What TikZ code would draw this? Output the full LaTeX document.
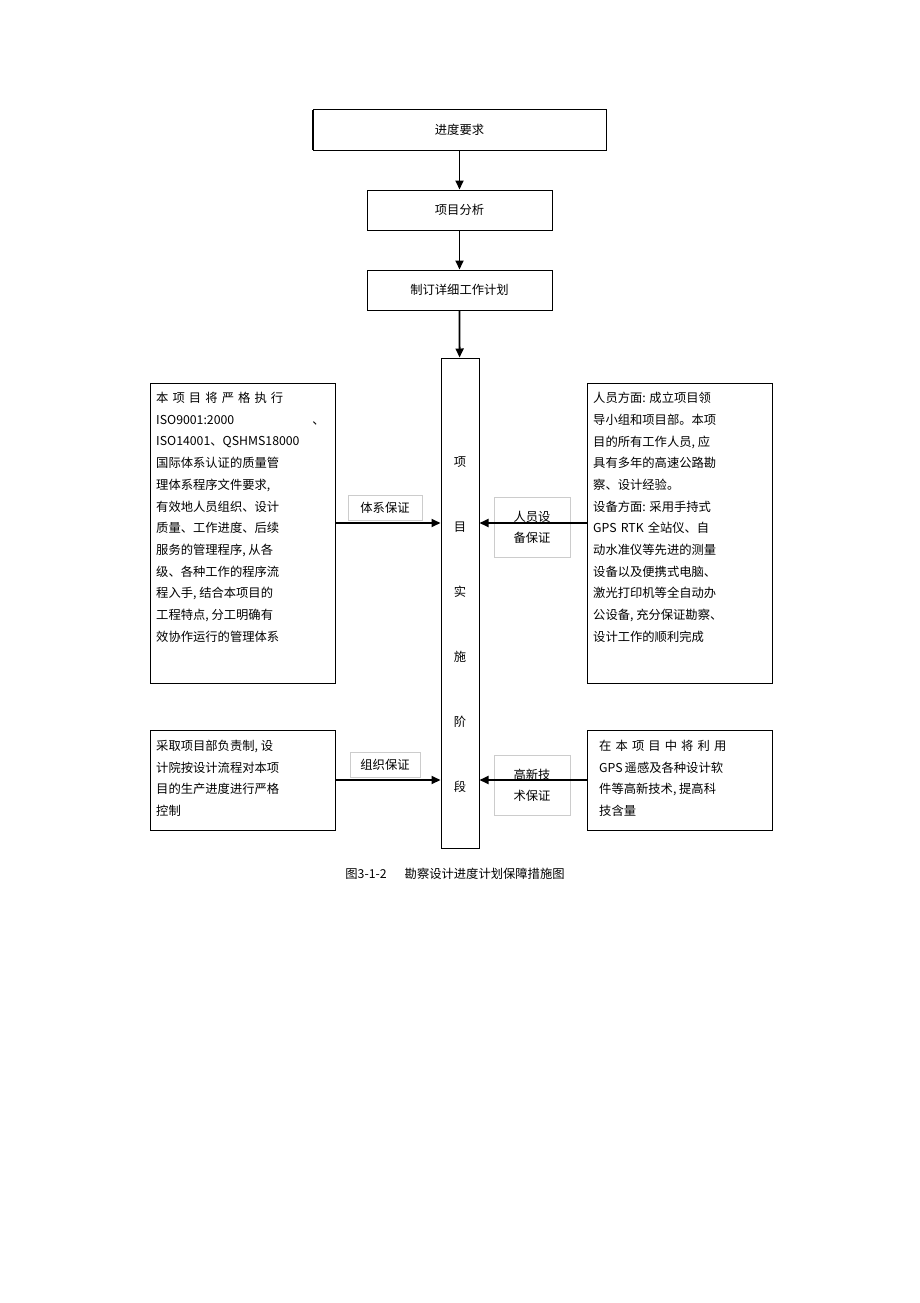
\documentclass[tikz,border=0pt]{standalone}
\usepackage{fontspec}
\setmainfont{Liberation Sans}
\newfontfamily\cjk{Noto Sans CJK SC}
\usetikzlibrary{arrows.meta}
\begin{document}
\begin{tikzpicture}[x=1pt,y=-1pt,
  box/.style={draw,line width=1pt},
  lbl/.style={draw=black!20,line width=0.5pt},
  txt/.style={anchor=north west,align=left,font=\cjk\fontsize{12.3}{21.7}\selectfont,inner sep=0pt},
  arr/.style={line width=1.8pt,-{Triangle[length=9pt,width=8pt]}}]
\useasboundingbox (0,0) rectangle (920,1303);
\node[box,minimum width=293,minimum height=40,font=\cjk\fontsize{12.3}{14}\selectfont] (a) at (459.5,130) {进度要求};
\draw[line width=2pt] (313,110)--(313,150);
\node[box,minimum width=185,minimum height=40,font=\cjk\fontsize{12.3}{14}\selectfont] (b) at (459.5,210) {项目分析};
\node[box,minimum width=185,minimum height=40,font=\cjk\fontsize{12.3}{14}\selectfont] (c) at (459.5,290) {制订详细工作计划};
\node[box,minimum width=38,minimum height=490,inner sep=0] (m) at (460,603) {};
\foreach \t [count=\i from 0] in {项,目,实,施,阶,段}
  \node[font=\cjk\fontsize{12.3}{14}\selectfont] (m\i) at (460,462+65*\i) {\t};
\draw[arr] (a) -- (b);
\draw[arr] (b) -- (c);
\draw[arr] (c) -- (m);
% left big
\node[box,minimum width=185,minimum height=300,inner sep=0] (L1) at (242.5,533) {};
\node[txt] (L1t) at (156,392) {本\,\,项\,\,目\,\,将\,\,严\,\,格\,\,执\,\,行\\
ISO9001:2000\hspace{78pt}、\\
ISO14001、QSHMS18000\\
国际体系认证的质量管\\理体系程序文件要求,\\有效地人员组织、设计\\质量、工作进度、后续\\服务的管理程序, 从各\\级、各种工作的程序流\\程入手, 结合本项目的\\工程特点, 分工明确有\\效协作运行的管理体系};
% right big
\node[box,minimum width=185,minimum height=300,inner sep=0] (R1) at (679.5,533) {};
\node[txt] (R1t) at (593,392) {人员方面: 成立项目领\\导小组和项目部。本项\\目的所有工作人员, 应\\具有多年的高速公路勘\\察、设计经验。\\设备方面: 采用手持式\\GPS\,\,RTK\,\,全站仪、自\\动水准仪等先进的测量\\设备以及便携式电脑、\\激光打印机等全自动办\\公设备, 充分保证勘察、\\设计工作的顺利完成};
% left small
\node[box,minimum width=185,minimum height=100,inner sep=0] (L2) at (242.5,780) {};
\node[txt] (L2t) at (156,740) {采取项目部负责制, 设\\计院按设计流程对本项\\目的生产进度进行严格\\控制};
% right small
\node[box,minimum width=185,minimum height=100,inner sep=0] (R2) at (679.5,780) {};
\node[txt] (R2t) at (599,740) {在\,\,本\,\,项\,\,目\,\,中\,\,将\,\,利\,\,用\\GPS\,遥感及各种设计软\\件等高新技术, 提高科\\技含量};
% labels
\node[lbl,minimum width=74,minimum height=25,inner sep=0,font=\cjk\fontsize{12.3}{14}\selectfont] (l1) at (385,508) {体系保证};
\node[lbl,minimum width=76,minimum height=60,inner sep=0,align=center,font=\cjk\fontsize{12.3}{21}\selectfont] (l2) at (532,527) {人员设\\备保证};
\node[lbl,minimum width=70,minimum height=25,inner sep=0,font=\cjk\fontsize{12.3}{14}\selectfont] (l3) at (385,765) {组织保证};
\node[lbl,minimum width=76,minimum height=60,inner sep=0,align=center,font=\cjk\fontsize{12.3}{21}\selectfont] (l4) at (532,785) {高新技\\术保证};
\draw[arr] (L1.east |- 0,523) -- (m.west |- 0,523);
\draw[arr] (R1.west |- 0,523) -- (m.east |- 0,523);
\draw[arr] (L2.east |- 0,780) -- (m.west |- 0,780);
\draw[arr] (R2.west |- 0,780) -- (m.east |- 0,780);
\node[font=\cjk\fontsize{12.3}{14}\selectfont] (cap) at (455,874) {图3-1-2\hspace{18pt}勘察设计进度计划保障措施图};
\end{tikzpicture}
\end{document}
